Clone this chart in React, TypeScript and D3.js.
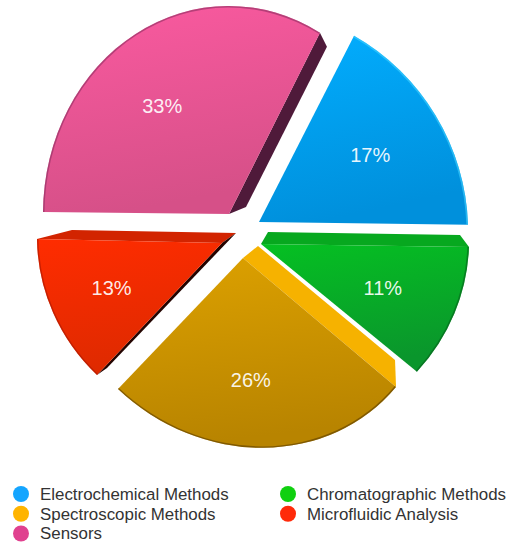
import * as d3 from "d3";

const categories = ["Electrochemical Methods", "Chromatographic Methods", "Spectroscopic Methods", "Microfluidic Analysis", "Sensors"];
const shares = [17, 11, 26, 13, 33];
const legendColors = ["#14a5ff", "#10d010", "#ffb400", "#ff2a0a", "#e0418f"];
const topColors = ["#02aeff", "#05c022", "#dea200", "#ff2c00", "#fb5aa0"];
const bottomColors = ["#0090dc", "#0a962c", "#b88400", "#de2a00", "#d65088"];
const rimColors = ["#3fd0ff", "#06601c", "#5a3c00", "#a81800", "#8c2f60"];

// each slice sits in its own skewed frame, the pie is a fake 3D perspective: a b c d e f
const frames = [
  [209, 2.2, 7.2, 214, 259, 222],
  [208, 2.3, -6, 197, 261, 244],
  [191.6, 9.9, 9.1, 189.6, 243, 258],
  [185, 3.4, 2.9, 184.8, 222, 243],
  [186, 1.3, -0.9, 208, 229, 214],
];
const labelNudge = [[0, 0], [0, 0], [-5, 2], [-4, 1], [-8, 5]];

// extruded faces: which edge, offset at the apex, offset at the rim
type Side = { slice: number; edge: "start" | "end"; inner: number[]; outer: number[]; color: string };
const sides: Side[] = [
  { slice: 1, edge: "start", inner: [7, -12], outer: [-9, -12], color: "#07a81f" },
  { slice: 2, edge: "start", inner: [15, -12], outer: [-1, -27], color: "#f6b200" },
  { slice: 3, edge: "end", inner: [14, -10], outer: [35, -9], color: "#d22400" },
  { slice: 3, edge: "start", inner: [14, -10], outer: [10, -7], color: "#240400" },
  { slice: 4, edge: "end", inner: [17, -7], outer: [7, 14], color: "#4f1a3a" },
];

const legendLeft = categories.map((c, i) => i === 1 || i === 3);
const legendRow = [0, 0, 1, 1, 2];

const pie = d3.pie<number>().sort(null).startAngle((29 * Math.PI) / 180).endAngle((389 * Math.PI) / 180);
const slices = pie(shares);
const wedge = d3.arc<d3.PieArcDatum<number>>().innerRadius(0).outerRadius(1);
const rim = d3.arc<d3.PieArcDatum<number>>().innerRadius(0.992).outerRadius(1);
const labelArc = d3.arc<d3.PieArcDatum<number>>().innerRadius(0.63).outerRadius(0.63);

const apply = (f: number[], x: number, y: number) => [f[0] * x + f[2] * y + f[4], f[1] * x + f[3] * y + f[5]];

function sidePath(s: Side) {
  const f = frames[s.slice];
  const angle = s.edge === "start" ? slices[s.slice].startAngle : slices[s.slice].endAngle;
  const [ux, uy] = d3.pointRadial(angle, 1);
  const apex = apply(f, 0, 0);
  const tip = apply(f, ux, uy);
  return d3.line()([
    apex,
    tip,
    [tip[0] + s.outer[0], tip[1] + s.outer[1]],
    [apex[0] + s.inner[0], apex[1] + s.inner[1]],
  ] as [number, number][])! + "Z";
}

export default function App() {
  const rowY = d3.scaleLinear().domain([0, 2]).range([494, 533.5]);
  return (
    <svg width={525} height={550} style={{ position: "absolute", left: 0, top: 0 }} fontFamily="'Liberation Sans', Arial, sans-serif">
      <defs>
        {slices.map((d, i) => (
          <linearGradient key={i} id={`face${i}`} x1="0" y1="0" x2="0.25" y2="1">
            <stop offset="0" stopColor={topColors[i]} />
            <stop offset="1" stopColor={bottomColors[i]} />
          </linearGradient>
        ))}
      </defs>
      {sides.map((s, i) => (
        <path key={i} d={sidePath(s)} fill={s.color} />
      ))}
      {slices.map((d, i) => (
        <g key={i} transform={`matrix(${frames[i].join(",")})`}>
          <path d={wedge(d)!} fill={`url(#face${i})`} />
          <path d={rim(d)!} fill={rimColors[i]} opacity={0.6} />
        </g>
      ))}
      {slices.map((d, i) => {
        const [x, y] = labelArc.centroid(d);
        const [px, py] = apply(frames[i], x, y);
        return (
          <text key={i} x={px + labelNudge[i][0]} y={py + labelNudge[i][1]} dy="0.35em" textAnchor="middle" fontSize={20} fill="#fff" fillOpacity={0.92}>
            {d.value}%
          </text>
        );
      })}
      {categories.map((c, i) => {
        const y = rowY(legendRow[i]);
        const x = legendLeft[i] ? 288 : 21;
        return (
          <g key={c}>
            <circle cx={x} cy={y} r={8} fill={legendColors[i]} />
            <text x={x + 19} y={y} dy="0.35em" fontSize={16.9} fill="#333">
              {c}
            </text>
          </g>
        );
      })}
    </svg>
  );
}
